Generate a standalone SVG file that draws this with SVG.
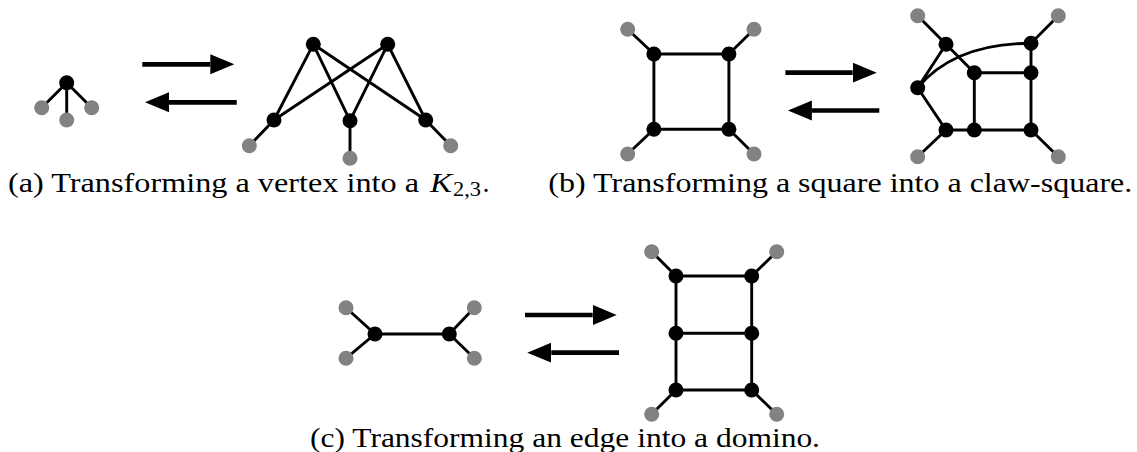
<svg xmlns="http://www.w3.org/2000/svg" width="1137" height="452" viewBox="0 0 1137 452">
<style>
.e{stroke:#000;stroke-width:2.9;fill:none}
.ar{stroke:#000;stroke-width:4.7;fill:none}
.b{fill:#000}
.g{fill:#828282}
.cap{font-family:"Liberation Serif","Times New Roman",serif;font-size:28px;fill:#000}
</style>
<defs>
<marker id="ah" markerUnits="userSpaceOnUse" markerWidth="25" markerHeight="21" refX="0" refY="10" orient="auto" viewBox="0 0 25 20">
<path d="M0,0 L24,10 L0,20 z" fill="#000"/>
</marker>
</defs>
<rect width="1137" height="452" fill="#fff"/>
<g id="connectors">
<path class="e" d="M66.7,82.7 L41.7,107.7 M66.7,82.7 L66.7,120 M66.7,82.7 L91.7,107.7"/>
<path class="e" d="M313.3,44.3 L274,120 M313.3,44.3 L350,120.7 M313.3,44.3 L425.7,120 M387.7,44.3 L274,120 M387.7,44.3 L350,120.7 M387.7,44.3 L425.7,120 M274,120 L249.3,145.7 M350,120.7 L350,158.3 M425.7,120 L450.7,145.7"/>
<path class="e" d="M653.9,54 L728.9,54 L728.9,129.3 L653.9,129.3 Z M653.9,54 L627.7,29.3 M728.9,54 L754,29.3 M653.9,129.3 L627.7,154 M728.9,129.3 L754,154"/>
<path class="e" d="M917.7,15.7 L946,44.3 L974.3,72.7 M946,44.3 L917.7,87.7 L946,130 L1031,130 L1031,43.3 L1058.3,15.7 M974.3,72.7 L1031,72.7 M974.3,72.7 L974.3,130 M946,130 L917.7,156.7 M1031,130 L1058.3,156.7 M917.7,87.7 C945,55 985,43.3 1031,43.3"/>
<path class="e" d="M375,334 L449.3,334 M375,334 L346,307.7 M375,334 L346,358.3 M449.3,334 L474.3,307.7 M449.3,334 L474.3,358.3"/>
<path class="e" d="M676,276 L751.7,276 L751.7,390 L676,390 Z M676,333.3 L751.7,333.3 M676,276 L651.7,251.7 M751.7,276 L776.7,251.7 M676,390 L651.7,414.3 M751.7,390 L776.7,414.3"/>
<line class="ar" x1="142.3" y1="64.3" x2="210.3" y2="64.3" marker-end="url(#ah)"/>
<line class="ar" x1="236.7" y1="102.3" x2="169" y2="102.3" marker-end="url(#ah)"/>
<line class="ar" x1="785.4" y1="72.7" x2="852.7" y2="72.7" marker-end="url(#ah)"/>
<line class="ar" x1="879.3" y1="110.5" x2="811.9" y2="110.5" marker-end="url(#ah)"/>
<line class="ar" x1="525" y1="315" x2="592.7" y2="315" marker-end="url(#ah)"/>
<line class="ar" x1="619" y1="352.7" x2="551.3" y2="352.7" marker-end="url(#ah)"/>
</g>
<g id="a-claw-center"><circle class="b" cx="66.7" cy="82.7" r="7.5"/></g>
<g id="a-claw-l"><circle class="g" cx="41.7" cy="107.7" r="7.5"/></g>
<g id="a-claw-m"><circle class="g" cx="66.7" cy="120" r="7.5"/></g>
<g id="a-claw-r"><circle class="g" cx="91.7" cy="107.7" r="7.5"/></g>
<g id="a-k-t1"><circle class="b" cx="313.3" cy="44.3" r="7.5"/></g>
<g id="a-k-t2"><circle class="b" cx="387.7" cy="44.3" r="7.5"/></g>
<g id="a-k-b1"><circle class="b" cx="274" cy="120" r="7.5"/></g>
<g id="a-k-b2"><circle class="b" cx="350" cy="120.7" r="7.5"/></g>
<g id="a-k-b3"><circle class="b" cx="425.7" cy="120" r="7.5"/></g>
<g id="a-k-g1"><circle class="g" cx="249.3" cy="145.7" r="7.5"/></g>
<g id="a-k-g2"><circle class="g" cx="350" cy="158.3" r="7.5"/></g>
<g id="a-k-g3"><circle class="g" cx="450.7" cy="145.7" r="7.5"/></g>
<g id="b-sq-tl"><circle class="b" cx="653.9" cy="54" r="7.5"/></g>
<g id="b-sq-tr"><circle class="b" cx="728.9" cy="54" r="7.5"/></g>
<g id="b-sq-bl"><circle class="b" cx="653.9" cy="129.3" r="7.5"/></g>
<g id="b-sq-br"><circle class="b" cx="728.9" cy="129.3" r="7.5"/></g>
<g id="b-sq-gtl"><circle class="g" cx="627.7" cy="29.3" r="7.5"/></g>
<g id="b-sq-gtr"><circle class="g" cx="754" cy="29.3" r="7.5"/></g>
<g id="b-sq-gbl"><circle class="g" cx="627.7" cy="154" r="7.5"/></g>
<g id="b-sq-gbr"><circle class="g" cx="754" cy="154" r="7.5"/></g>
<g id="b-cs-gtl"><circle class="g" cx="917.7" cy="15.7" r="7.5"/></g>
<g id="b-cs-gtr"><circle class="g" cx="1058.3" cy="15.7" r="7.5"/></g>
<g id="b-cs-gbl"><circle class="g" cx="917.7" cy="156.7" r="7.5"/></g>
<g id="b-cs-gbr"><circle class="g" cx="1058.3" cy="156.7" r="7.5"/></g>
<g id="b-cs-t1"><circle class="b" cx="946" cy="44.3" r="7.5"/></g>
<g id="b-cs-t2"><circle class="b" cx="1031" cy="43.3" r="7.5"/></g>
<g id="b-cs-m1"><circle class="b" cx="974.3" cy="72.7" r="7.5"/></g>
<g id="b-cs-m2"><circle class="b" cx="1031" cy="72.7" r="7.5"/></g>
<g id="b-cs-l"><circle class="b" cx="917.7" cy="87.7" r="7.5"/></g>
<g id="b-cs-b1"><circle class="b" cx="946" cy="130" r="7.5"/></g>
<g id="b-cs-b2"><circle class="b" cx="974.3" cy="130" r="7.5"/></g>
<g id="b-cs-b3"><circle class="b" cx="1031" cy="130" r="7.5"/></g>
<g id="c-e-l"><circle class="b" cx="375" cy="334" r="7.5"/></g>
<g id="c-e-r"><circle class="b" cx="449.3" cy="334" r="7.5"/></g>
<g id="c-e-g1"><circle class="g" cx="346" cy="307.7" r="7.5"/></g>
<g id="c-e-g2"><circle class="g" cx="346" cy="358.3" r="7.5"/></g>
<g id="c-e-g3"><circle class="g" cx="474.3" cy="307.7" r="7.5"/></g>
<g id="c-e-g4"><circle class="g" cx="474.3" cy="358.3" r="7.5"/></g>
<g id="c-d-tl"><circle class="b" cx="676" cy="276" r="7.5"/></g>
<g id="c-d-tr"><circle class="b" cx="751.7" cy="276" r="7.5"/></g>
<g id="c-d-ml"><circle class="b" cx="676" cy="333.3" r="7.5"/></g>
<g id="c-d-mr"><circle class="b" cx="751.7" cy="333.3" r="7.5"/></g>
<g id="c-d-bl"><circle class="b" cx="676" cy="390" r="7.5"/></g>
<g id="c-d-br"><circle class="b" cx="751.7" cy="390" r="7.5"/></g>
<g id="c-d-gtl"><circle class="g" cx="651.7" cy="251.7" r="7.5"/></g>
<g id="c-d-gtr"><circle class="g" cx="776.7" cy="251.7" r="7.5"/></g>
<g id="c-d-gbl"><circle class="g" cx="651.7" cy="414.3" r="7.5"/></g>
<g id="c-d-gbr"><circle class="g" cx="776.7" cy="414.3" r="7.5"/></g>
<g id="captions" class="cap">
<text x="8" y="191.7" textLength="411" lengthAdjust="spacingAndGlyphs">(a) Transforming a vertex into a</text>
<text x="430" y="191.7" font-style="italic" textLength="22" lengthAdjust="spacingAndGlyphs">K</text>
<text x="453" y="196" font-size="20" textLength="28" lengthAdjust="spacingAndGlyphs">2,3</text>
<text x="482.5" y="191.7">.</text>
<text x="548.3" y="191.7" textLength="584" lengthAdjust="spacingAndGlyphs">(b) Transforming a square into a claw-square.</text>
<text x="310" y="446.5" textLength="510" lengthAdjust="spacingAndGlyphs">(c) Transforming an edge into a domino.</text>
</g>
</svg>
